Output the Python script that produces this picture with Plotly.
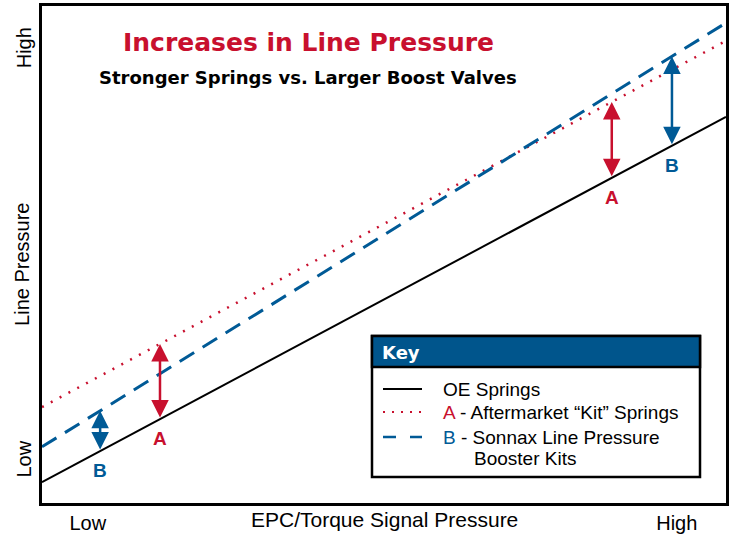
import plotly.graph_objects as go

# Data (axis units 0-100 for both "Low"->"High" axes)
x_ends = [0, 100]
oe_springs = [4.2, 77.7]
kit_springs = [19.3, 93.0]
sonnax_kits = [11.3, 96.6]

x_tick_vals = [6.7, 92.8]
x_tick_text = ["Low", "High"]
y_tick_vals = [8.2, 91.0]
y_tick_text = ["Low", "High"]

# Arrow positions (x) and their labels
arrow_x = [8.5, 17.25, 83.3, 92.1]
arrow_series = ["B", "A", "A", "B"]

RED = "#C8102E"
BLUE = "#005A96"
KEYBLUE = "#00558C"
SANS = "Liberation Sans, Arial, sans-serif"
WIDE = "DejaVu Sans, Liberation Sans, sans-serif"

def val(series, x):
    return series[0] + (series[1] - series[0]) * x / 100.0

fig = go.Figure()
fig.add_trace(go.Scatter(x=x_ends, y=oe_springs, mode="lines",
                         line=dict(color="black", width=2), showlegend=False, hoverinfo="skip"))
fig.add_trace(go.Scatter(x=x_ends, y=kit_springs, mode="lines",
                         line=dict(color=RED, width=2.5, dash="2px,8px"), showlegend=False, hoverinfo="skip"))
fig.add_trace(go.Scatter(x=x_ends, y=sonnax_kits, mode="lines",
                         line=dict(color=BLUE, width=3, dash="17px,10px"), showlegend=False, hoverinfo="skip"))

W, H = 731, 534
L, R, T, B = 42, 5, 6, 31
pw, ph = W - L - R, H - T - B
def px(x):
    return (x - L) / pw
def py(y):
    return (H - B - y) / ph

annotations = []
for xv, s in zip(arrow_x, arrow_series):
    top = val(kit_springs, xv) if s == "A" else val(sonnax_kits, xv)
    bot = val(oe_springs, xv)
    col = RED if s == "A" else BLUE
    annotations.append(dict(x=xv, y=top, ax=xv, ay=bot, xref="x", yref="y", axref="x", ayref="y",
                            text="", showarrow=True, arrowhead=2, startarrowhead=2, arrowside="end+start",
                            arrowsize=1.4, startarrowsize=1.4, arrowwidth=2.5, arrowcolor=col,
                            standoff=0, startstandoff=0))
    annotations.append(dict(x=xv, y=bot, xref="x", yref="y", text="<b>%s</b>" % s, showarrow=False,
                            yanchor="top", yshift=-7,
                            font=dict(family=SANS, size=19, color=col)))

# Titles
annotations.append(dict(xref="paper", yref="paper", x=px(308), y=py(42), xanchor="center", yanchor="middle",
                        text="<b>Increases in Line Pressure</b>", showarrow=False,
                        font=dict(family=WIDE, size=25, color=RED)))
annotations.append(dict(xref="paper", yref="paper", x=px(308), y=py(78), xanchor="center", yanchor="middle",
                        text="<b>Stronger Springs vs. Larger Boost Valves</b>", showarrow=False,
                        font=dict(family=WIDE, size=18, color="black")))

# Axis titles
annotations.append(dict(xref="x", yref="paper", x=50, y=0, yanchor="top", yshift=-3,
                        text="EPC/Torque Signal Pressure", showarrow=False,
                        font=dict(family=SANS, size=21, color="black")))
annotations.append(dict(xref="paper", yref="y", x=0, y=47.9, xanchor="right", yanchor="middle",
                        xshift=-7, textangle=-90,
                        text="Line Pressure", showarrow=False,
                        font=dict(family=SANS, size=20, color="black")))

shapes = []
shapes.append(dict(type="rect", xref="paper", yref="paper", x0=px(372), x1=px(700), y0=py(477), y1=py(336),
                   fillcolor="white", line=dict(color="black", width=2.5), layer="above"))
shapes.append(dict(type="rect", xref="paper", yref="paper", x0=px(372), x1=px(700), y0=py(367), y1=py(336),
                   fillcolor=KEYBLUE, line=dict(color="black", width=2.5), layer="above"))
shapes.append(dict(type="line", xref="paper", yref="paper", x0=px(383), x1=px(422), y0=py(389), y1=py(389),
                   line=dict(color="black", width=2), layer="above"))
shapes.append(dict(type="line", xref="paper", yref="paper", x0=px(383), x1=px(422), y0=py(412), y1=py(412),
                   line=dict(color=RED, width=2, dash="2px,7px"), layer="above"))
shapes.append(dict(type="line", xref="paper", yref="paper", x0=px(383), x1=px(422), y0=py(437), y1=py(437),
                   line=dict(color=BLUE, width=2.5, dash="13px,14px"), layer="above"))

keyfont = dict(family=SANS, size=19, color="black")
def key_text(x, y, text, font):
    return dict(xref="paper", yref="paper", x=px(x), y=py(y), xanchor="left", yanchor="middle",
                text=text, showarrow=False, font=font)

annotations.append(key_text(380, 352, "<b>Key</b>", dict(family=WIDE, size=18, color="white")))
annotations.append(key_text(441, 389, "OE Springs", keyfont))
annotations.append(key_text(441, 412, "<span style='color:%s'>A</span> - Aftermarket “Kit” Springs" % RED, keyfont))
annotations.append(key_text(441, 437, "<span style='color:%s'>B</span> - Sonnax Line Pressure" % BLUE, keyfont))
annotations.append(key_text(472, 458, "Booster Kits", keyfont))

fig.update_layout(
    width=W, height=H,
    margin=dict(l=L, r=R, t=T, b=B, autoexpand=False),
    paper_bgcolor="white", plot_bgcolor="white",
    showlegend=False,
    annotations=annotations,
    shapes=shapes,
    xaxis=dict(range=[0, 100], showgrid=False, zeroline=False, showline=True, mirror=True,
               linecolor="black", linewidth=2.5, tickvals=x_tick_vals, ticktext=x_tick_text, ticks="",
               automargin=False, ticklabelstandoff=0,
               tickfont=dict(family=SANS, size=20, color="black")),
    yaxis=dict(range=[0, 100], showgrid=False, zeroline=False, showline=True, mirror=True,
               linecolor="black", linewidth=2.5, tickvals=y_tick_vals, ticktext=y_tick_text, ticks="",
               tickangle=-90, automargin=False,
               tickfont=dict(family=SANS, size=20, color="black")),
)

fig.write_html("out.html", config={"displayModeBar": False},
               post_script="document.body.style.margin='0px';document.body.style.overflow='hidden';")
